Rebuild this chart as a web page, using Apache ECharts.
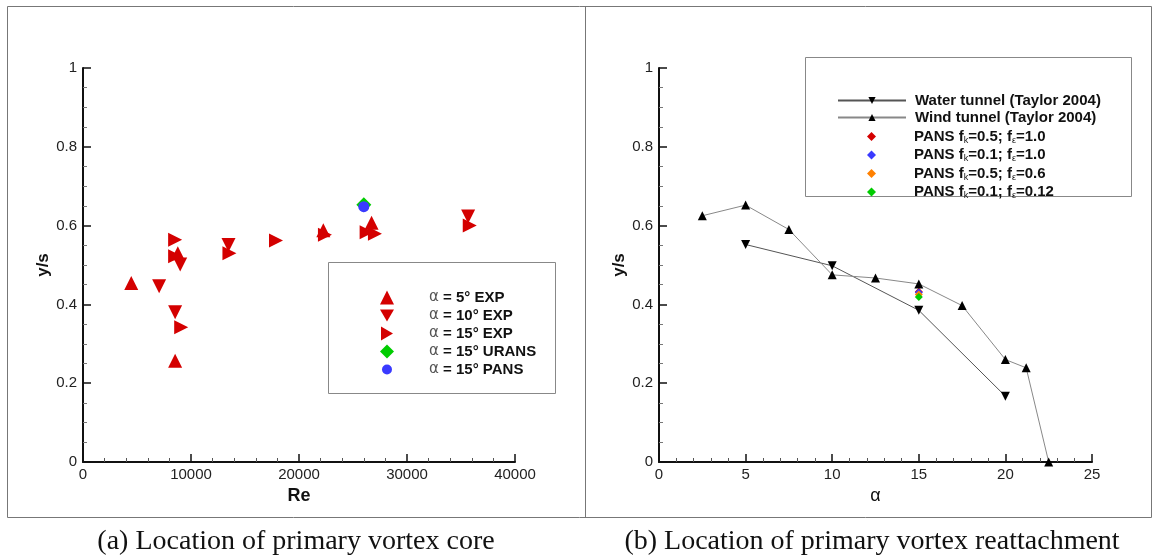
<!DOCTYPE html>
<html lang="en">

<head>
    <meta charset="UTF-8">
    <title>Primary vortex location</title>
    <style>
        html,
        body {
            margin: 0;
            padding: 0;
            background: #fff;
        }

        #main {
            width: 1158px;
            height: 558px;
        }
    </style>
    <script src="https://cdn.jsdelivr.net/npm/echarts@6/dist/echarts.min.js"></script>
</head>

<body>
    <div id="main"></div>
    <script>
        // (a) vortex core location vs Re  -> [Re, y/s]
        const exp5 = [[4470, 0.454], [8530, 0.257], [8780, 0.530], [22250, 0.588], [26720, 0.607]];
        const exp10 = [[7050, 0.446], [8530, 0.380], [9000, 0.501], [13470, 0.551], [35660, 0.623]];
        const exp15 = [[8530, 0.564], [8530, 0.522], [9090, 0.342], [13560, 0.530], [17870, 0.562],
            [22400, 0.577], [26260, 0.583], [27030, 0.579], [35810, 0.600]];
        const urans15 = [[26000, 0.653]];
        const pans15 = [[26000, 0.648]];

        // (b) reattachment location vs alpha
        const waterAlpha = [5, 10, 15, 20];
        const waterY = [0.552, 0.498, 0.385, 0.167];
        const windAlpha = [2.5, 5, 7.5, 10, 12.5, 15, 17.5, 20, 21.2, 22.5];
        const windY = [0.625, 0.652, 0.590, 0.475, 0.467, 0.452, 0.397, 0.260, 0.239, 0];
        const pansAlpha = 15;
        const pansNames = ['PANS fk=0.5; fe=1.0', 'PANS fk=0.1; fe=1.0', 'PANS fk=0.5; fe=0.6', 'PANS fk=0.1; fe=0.12'];
        const pansY = [0.432, 0.430, 0.425, 0.419];
        const pansColors = ['#d40000', '#3a3aff', '#ff8000', '#00cc00'];

        const leftNames = ['α = 5° EXP', 'α = 10° EXP', 'α = 15° EXP', 'α = 15° URANS', 'α = 15° PANS'];
        const lineNames = ['Water tunnel (Taylor 2004)', 'Wind tunnel (Taylor 2004)'];

        const chart = echarts.init(document.getElementById('main'));
        window.addEventListener('resize', () => chart.resize());

        const red = '#d40000';
        const tickFont = { fontFamily: 'Liberation Sans', fontSize: 15, color: '#222' };

        function xAx(idx, max, interval, name, bold) {
            return {
                type: 'value', gridIndex: idx, min: 0, max: max, interval: interval,
                name: name, nameLocation: 'middle', nameGap: 19,
                nameTextStyle: { fontFamily: 'Liberation Sans', fontSize: 18, fontWeight: bold ? 'bold' : 'normal', color: '#111', verticalAlign: 'top' },
                axisLine: { show: true, onZero: false, lineStyle: { color: '#111', width: 2 } },
                axisTick: { show: true, inside: true, length: 8, lineStyle: { color: '#111', width: 1.5 } },
                minorTick: { show: true, splitNumber: 5, length: 4, lineStyle: { color: '#555' } },
                axisLabel: Object.assign({ margin: 5, formatter: v => String(v) }, tickFont),
                splitLine: { show: false }
            };
        }

        function yAx(idx) {
            return {
                type: 'value', gridIndex: idx, min: 0, max: 1, interval: 0.2,
                name: 'y/s', nameLocation: 'middle', nameGap: 31, nameRotate: 90,
                nameTextStyle: { fontFamily: 'Liberation Sans', fontSize: 17, fontWeight: 'bold', color: '#111' },
                axisLine: { show: true, onZero: false, lineStyle: { color: '#111', width: 2 } },
                axisTick: { show: true, inside: true, length: 8, lineStyle: { color: '#111', width: 1.5 } },
                minorTick: { show: true, splitNumber: 4, length: 4, lineStyle: { color: '#777' } },
                axisLabel: Object.assign({ margin: 6 }, tickFont),
                splitLine: { show: false }
            };
        }

        function leftFmt(name) {
            return '{sp| }{al|α}{b|' + name.slice(1) + '}';
        }

        function lineFmt(name) {
            return '{sp| }{b|' + name + '}';
        }

        function pansFmt(name) {
            // PANS fk=0.5; fe=1.0
            const m = name.match(/fk=([^;]+); fe=(.+)$/);
            return '{sp| }{b|PANS f}{sub|k}{b|=' + m[1] + '; f}{sub|ε}{b|=' + m[2] + '}';
        }

        const boldRich = { fontFamily: 'Liberation Sans', fontSize: 15, fontWeight: 'bold', color: '#111' };

        const series = [
            { name: leftNames[0], type: 'scatter', xAxisIndex: 0, yAxisIndex: 0, data: exp5, symbol: 'triangle', symbolSize: 14, itemStyle: { color: red, opacity: 1 } },
            { name: leftNames[1], type: 'scatter', xAxisIndex: 0, yAxisIndex: 0, data: exp10, symbol: 'triangle', symbolRotate: 180, symbolSize: 14, itemStyle: { color: red, opacity: 1 } },
            { name: leftNames[2], type: 'scatter', xAxisIndex: 0, yAxisIndex: 0, data: exp15, symbol: 'triangle', symbolRotate: -90, symbolSize: 14, itemStyle: { color: red, opacity: 1 } },
            { name: leftNames[3], type: 'scatter', xAxisIndex: 0, yAxisIndex: 0, data: urans15, symbol: 'diamond', symbolSize: 15, itemStyle: { color: '#00cc00', opacity: 1 } },
            { name: leftNames[4], type: 'scatter', xAxisIndex: 0, yAxisIndex: 0, data: pans15, symbol: 'circle', symbolSize: 11, itemStyle: { color: '#3a3aff', opacity: 1 } },
            {
                name: lineNames[0], type: 'line', xAxisIndex: 1, yAxisIndex: 1,
                data: waterAlpha.map((a, i) => [a, waterY[i]]),
                symbol: 'triangle', symbolRotate: 180, symbolSize: 9,
                itemStyle: { color: '#000' }, lineStyle: { color: '#555', width: 1 }
            },
            {
                name: lineNames[1], type: 'line', xAxisIndex: 1, yAxisIndex: 1,
                data: windAlpha.map((a, i) => [a, windY[i]]),
                symbol: 'triangle', symbolSize: 9,
                itemStyle: { color: '#000' }, lineStyle: { color: '#888', width: 1 }
            }
        ];
        pansNames.forEach((n, i) => {
            series.push({
                name: n, type: 'scatter', xAxisIndex: 1, yAxisIndex: 1,
                data: [[pansAlpha, pansY[i]]], symbol: 'diamond', symbolSize: 8,
                itemStyle: { color: pansColors[i], opacity: 1 }
            });
        });

        const leftIcons = [
            'triangle',
            'path://M0,0L14,0L7,12Z',
            'path://M0,0L12,7L0,14Z',
            'diamond',
            'path://M0,0L0,0M14,14L14,14M7,2A5,5,0,1,1,6.99,2Z'
        ];

        const option = {
            animation: false,
            backgroundColor: '#fff',
            grid: [
                { left: 83, top: 68, width: 432, height: 394, outerBoundsMode: 'none' },
                { left: 659, top: 68, width: 433, height: 394, outerBoundsMode: 'none' }
            ],
            xAxis: [xAx(0, 40000, 10000, 'Re', true), xAx(1, 25, 5, 'α', false)],
            yAxis: [yAx(0), yAx(1)],
            legend: [
                {
                    data: leftNames.map((n, i) => ({ name: n, icon: leftIcons[i] })),
                    left: 375, top: 285, orient: 'vertical',
                    itemWidth: 14, itemHeight: 14, itemGap: 3, selectedMode: false,
                    formatter: leftFmt,
                    textStyle: {
                        rich: {
                            sp: { width: 30 },
                            al: { fontFamily: 'DejaVu Sans', fontSize: 15, color: '#555' },
                            b: boldRich
                        }
                    }
                },
                {
                    data: lineNames, left: 832, top: 88, orient: 'vertical',
                    itemWidth: 68, itemHeight: 9, itemGap: 2, selectedMode: false,
                    formatter: lineFmt,
                    textStyle: { rich: { sp: { width: 4 }, b: boldRich } }
                },
                {
                    data: pansNames, left: 862, top: 124, orient: 'vertical',
                    itemWidth: 9, itemHeight: 9, itemGap: 2.5, selectedMode: false,
                    formatter: pansFmt,
                    textStyle: {
                        rich: {
                            sp: { width: 33 },
                            b: boldRich,
                            sub: { fontFamily: 'Liberation Sans', fontSize: 9, color: '#111', padding: [8, 0, 0, 0] }
                        }
                    }
                }
            ],
            graphic: [
                { type: 'rect', shape: { x: 7.5, y: 6.5, width: 1144, height: 511 }, style: { fill: 'none', stroke: '#777', lineWidth: 1 }, silent: true },
                { type: 'line', shape: { x1: 585.5, y1: 6.5, x2: 585.5, y2: 517.5 }, style: { stroke: '#777', lineWidth: 1 }, silent: true },
                { type: 'rect', shape: { x: 328.5, y: 262.5, width: 227, height: 131 }, style: { fill: 'none', stroke: '#888', lineWidth: 1 }, silent: true, z: -1 },
                { type: 'rect', shape: { x: 805.5, y: 57.5, width: 326, height: 139 }, style: { fill: 'none', stroke: '#888', lineWidth: 1 }, silent: true, z: -1 },
                { type: 'text', x: 296, y: 542, style: { text: '(a) Location of primary vortex core', fontFamily: 'Liberation Serif', fontSize: 28, fill: '#111', align: 'center', verticalAlign: 'middle' }, silent: true },
                { type: 'text', x: 872, y: 542, style: { text: '(b) Location of primary vortex reattachment', fontFamily: 'Liberation Serif', fontSize: 28, fill: '#111', align: 'center', verticalAlign: 'middle' }, silent: true }
            ],
            series: series
        };

        chart.setOption(option);
    </script>
</body>

</html>
